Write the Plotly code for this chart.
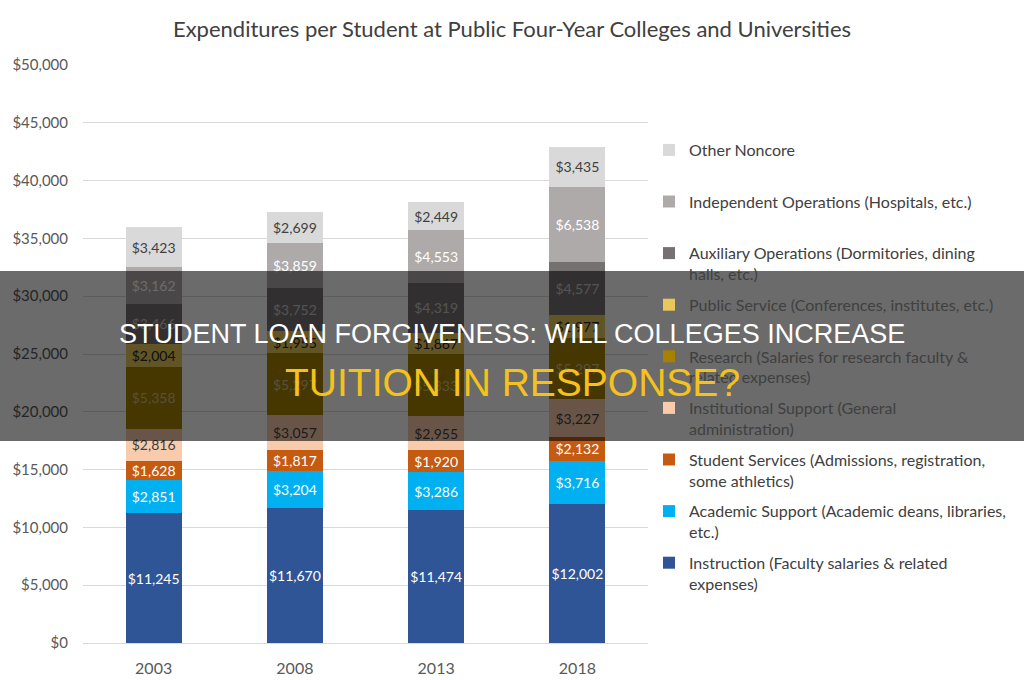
import plotly.graph_objects as go

years = ["2003", "2008", "2013", "2018"]

series_names = [
    "Instruction (Faculty salaries & related<br>expenses)",
    "Academic Support (Academic deans, libraries,<br>etc.)",
    "Student Services (Admissions, registration,<br>some athletics)",
    "Institutional Support (General<br>administration)",
    "Research (Salaries for research faculty &<br>related expenses)",
    "Public Service (Conferences, institutes, etc.)<br> ",
    "Auxiliary Operations (Dormitories, dining<br>halls, etc.)",
    "Independent Operations (Hospitals, etc.)<br> ",
    "Other Noncore<br> ",
]

instruction = [11245, 11670, 11474, 12002]
academic_support = [2851, 3204, 3286, 3716]
student_services = [1628, 1817, 1920, 2132]
institutional_support = [2816, 3057, 2955, 3227]
research = [5358, 5297, 5333, 5297]
public_service = [2004, 1955, 1867, 1977]
auxiliary = [3466, 3752, 4319, 4577]
independent = [3162, 3859, 4553, 6538]
other_noncore = [3423, 2699, 2449, 3435]

values = [instruction, academic_support, student_services, institutional_support,
          research, public_service, auxiliary, independent, other_noncore]

colors = ["#2f5597", "#00b0f0", "#c55a11", "#f8cbad", "#a88000",
          "#e8c85a", "#767171", "#aeaaaa", "#d9d9d9"]
label_colors = ["#ffffff", "#ffffff", "#ffffff", "#404040", "#d0c090",
                "#262626", "#c8c8c8", "#ffffff", "#404040"]

title_text = "Expenditures per Student at Public Four-Year Colleges and Universities"
banner_line1 = "STUDENT LOAN FORGIVENESS: WILL COLLEGES INCREASE"
banner_line2 = "TUITION IN RESPONSE?"

W, H = 1024, 680
L, R, T, B = 83, 1024 - 648, 65, 680 - 643
PW, PH = W - L - R, H - T - B


def px_x(x):
    return (x - L) / PW


def px_y(y):
    return (H - B - y) / PH


fig = go.Figure()
n = len(series_names)
for i, (name, vals, col, lc) in enumerate(zip(series_names, values, colors, label_colors)):
    fig.add_trace(go.Bar(
        x=years, y=vals, name=name, legendgroup=name, legendrank=100 * (n - i),
        marker=dict(color=col, line=dict(width=0)),
        texttemplate="$%{y:,}", textposition="inside", insidetextanchor="middle",
        textangle=0,
        textfont=dict(family="Lato", size=14, color=lc),
        hoverinfo="skip",
    ))

fig.update_layout(
    width=W, height=H,
    barmode="stack", bargap=0.604,
    margin=dict(l=L, r=R, t=T, b=B, autoexpand=False),
    paper_bgcolor="white", plot_bgcolor="white",
    uniformtext=dict(minsize=14, mode="show"),
    title=dict(text=title_text, x=0.5, xref="container", xanchor="center",
               y=1 - 29 / H, yanchor="middle",
               font=dict(family="Lato", size=22, color="#404040")),
    font=dict(family="Lato", color="#595959"),
    legend=dict(
        x=px_x(649), y=px_y(133), xanchor="left", yanchor="top",
        traceorder="grouped", valign="top", tracegroupgap=7,
        font=dict(family="Lato", size=16, color="#404040"),
        bgcolor="rgba(0,0,0,0)", itemclick=False,
    ),
    xaxis=dict(type="category", showgrid=False, showline=False, ticks="",
               tickfont=dict(family="Lato", size=16, color="#595959"),
               ticklabelstandoff=14),
    yaxis=dict(range=[0, 50000], dtick=5000, tickformat="$,",
               showgrid=True, gridcolor="#d9d9d9", gridwidth=1,
               zeroline=True, zerolinecolor="#d9d9d9", zerolinewidth=1,
               showline=False, ticks="",
               tickfont=dict(family="Lato", size=15, color="#595959"),
               ticklabelstandoff=14),
    shapes=[dict(type="rect", xref="paper", yref="paper",
                 x0=px_x(0), x1=px_x(W), y0=px_y(441), y1=px_y(271),
                 fillcolor="rgba(0,0,0,0.58)", line=dict(width=0), layer="above")],
    annotations=[
        dict(text=banner_line1, xref="paper", yref="paper", x=px_x(512), y=px_y(333.5),
             xanchor="center", yanchor="middle", showarrow=False,
             font=dict(family="Liberation Sans", size=27, color="white")),
        dict(text=banner_line2, xref="paper", yref="paper", x=px_x(512), y=px_y(382.5),
             xanchor="center", yanchor="middle", showarrow=False,
             font=dict(family="Liberation Sans", size=39, color="#f5c21b")),
    ],
)

fig.write_html("out.html")
